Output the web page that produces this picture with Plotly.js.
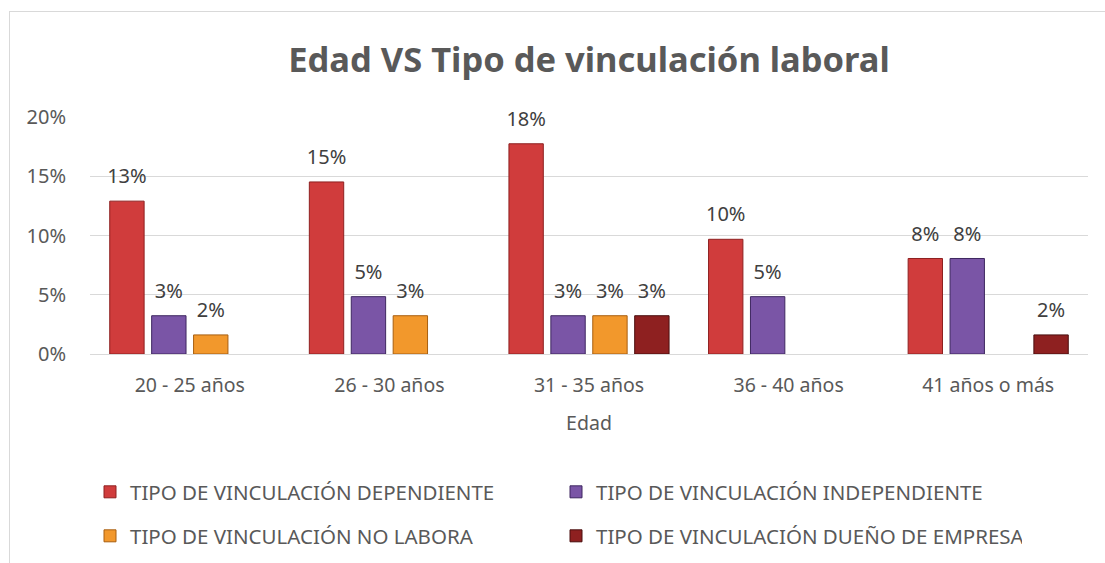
<!DOCTYPE html>
<html>
<head>
<meta charset="utf-8">
<script src="https://cdn.plot.ly/plotly-3.0.1.min.js"></script>
<style>
html,body{margin:0;padding:0;background:#fff;overflow:hidden;}
#chart{width:1105px;height:563px;position:absolute;left:0;top:0;}
#frame{position:absolute;left:9px;top:11px;width:1200px;height:1000px;border:1px solid #d9d9d9;pointer-events:none;}
</style>
</head>
<body>
<div id="chart"></div>
<div id="frame"></div>
<script>
const categories = ['20 - 25 años', '26 - 30 años', '31 - 35 años', '36 - 40 años', '41 años o más'];
const seriesNames = [
  'TIPO DE VINCULACIÓN DEPENDIENTE',
  'TIPO DE VINCULACIÓN INDEPENDIENTE',
  'TIPO DE VINCULACIÓN NO LABORA',
  'TIPO DE VINCULACIÓN DUEÑO DE EMPRESA'
];
const dependiente   = [0.1290, 0.1452, 0.1774, 0.0968, 0.0806];
const independiente = [0.0323, 0.0484, 0.0323, 0.0484, 0.0806];
const noLabora      = [0.0161, 0.0323, 0.0323, 0, 0];
const duenoEmpresa  = [0, 0, 0.0323, 0, 0.0161];

const colors = ['#D03C3C', '#7A55A6', '#F2982C', '#8E2020'];
const lineColors = ['#8E2020', '#3E2760', '#A85F10', '#4A0E0E'];
const allSeries = [dependiente, independiente, noLabora, duenoEmpresa];
const legendIds = ['legend', 'legend', 'legend2', 'legend2'];

const FONT = 'Noto Sans, Open Sans, sans-serif';

const barTraces = allSeries.map((vals, i) => ({
  type: 'bar',
  name: seriesNames[i],
  x: categories,
  y: vals.map(v => v > 0 ? v : null),
  legend: legendIds[i],
  marker: {color: colors[i], line: {color: lineColors[i], width: 1}},
  hoverinfo: 'x+y+name'
}));

const labelTraces = allSeries.map((vals, i) => ({
  type: 'scatter',
  mode: 'text+markers',
  x: categories,
  y: vals.map(v => v > 0 ? v : null),
  text: vals.map(v => v > 0 ? Math.round(v * 100) + '%' : ''),
  textposition: 'top center',
  textfont: {family: FONT, size: 20, color: '#404040'},
  marker: {size: 19, opacity: 0, color: colors[i]},
  cliponaxis: false,
  showlegend: false,
  hoverinfo: 'skip'
}));

const layout = {
  width: 1105,
  height: 563,
  margin: {l: 90, r: 17, t: 117, b: 209, autoexpand: false},
  paper_bgcolor: '#ffffff',
  plot_bgcolor: '#ffffff',
  font: {family: FONT, color: '#595959', size: 19},
  title: {
    text: '<b>Edad VS Tipo de vinculación laboral</b>',
    font: {family: FONT, size: 34.5, color: '#595959'},
    x: 0.5, xanchor: 'center', xref: 'paper',
    y: 1 - 60 / 563, yref: 'container', yanchor: 'middle'
  },
  barmode: 'group',
  bargap: 0.16,
  bargroupgap: 0.18,
  scattermode: 'group',
  scattergap: 0.16,
  xaxis: {
    type: 'category',
    ticks: 'outside', ticklen: 14, tickcolor: 'rgba(0,0,0,0)',
    tickfont: {family: FONT, size: 19.5, color: '#595959'},
    showline: true, linecolor: '#d9d9d9', linewidth: 1,
    title: {text: 'Edad', font: {family: FONT, size: 19.5, color: '#595959'}, standoff: 18}
  },
  yaxis: {
    range: [0, 0.2],
    dtick: 0.05,
    tickformat: '.0%',
    showgrid: true, gridcolor: '#d9d9d9', gridwidth: 1,
    zeroline: false,
    ticks: 'outside', ticklen: 19, tickcolor: 'rgba(0,0,0,0)',
    tickfont: {family: FONT, size: 20, color: '#595959'}
  },
  legend: {
    orientation: 'h',
    x: 0, xanchor: 'left',
    yref: 'container',
    y: 1 - 472 / 563, yanchor: 'top',
    entrywidth: 421, entrywidthmode: 'pixels',
    font: {family: FONT, size: 20.5, color: '#595959'},
    bgcolor: 'rgba(0,0,0,0)'
  },
  legend2: {
    orientation: 'h',
    x: 0, xanchor: 'left',
    yref: 'container',
    y: 1 - 516 / 563, yanchor: 'top',
    entrywidth: 421, entrywidthmode: 'pixels',
    font: {family: FONT, size: 20.5, color: '#595959'},
    bgcolor: 'rgba(0,0,0,0)'
  },
  showlegend: true
};

Plotly.newPlot('chart', barTraces.concat(labelTraces), layout, {displayModeBar: false, staticPlot: true});
</script>
</body>
</html>
